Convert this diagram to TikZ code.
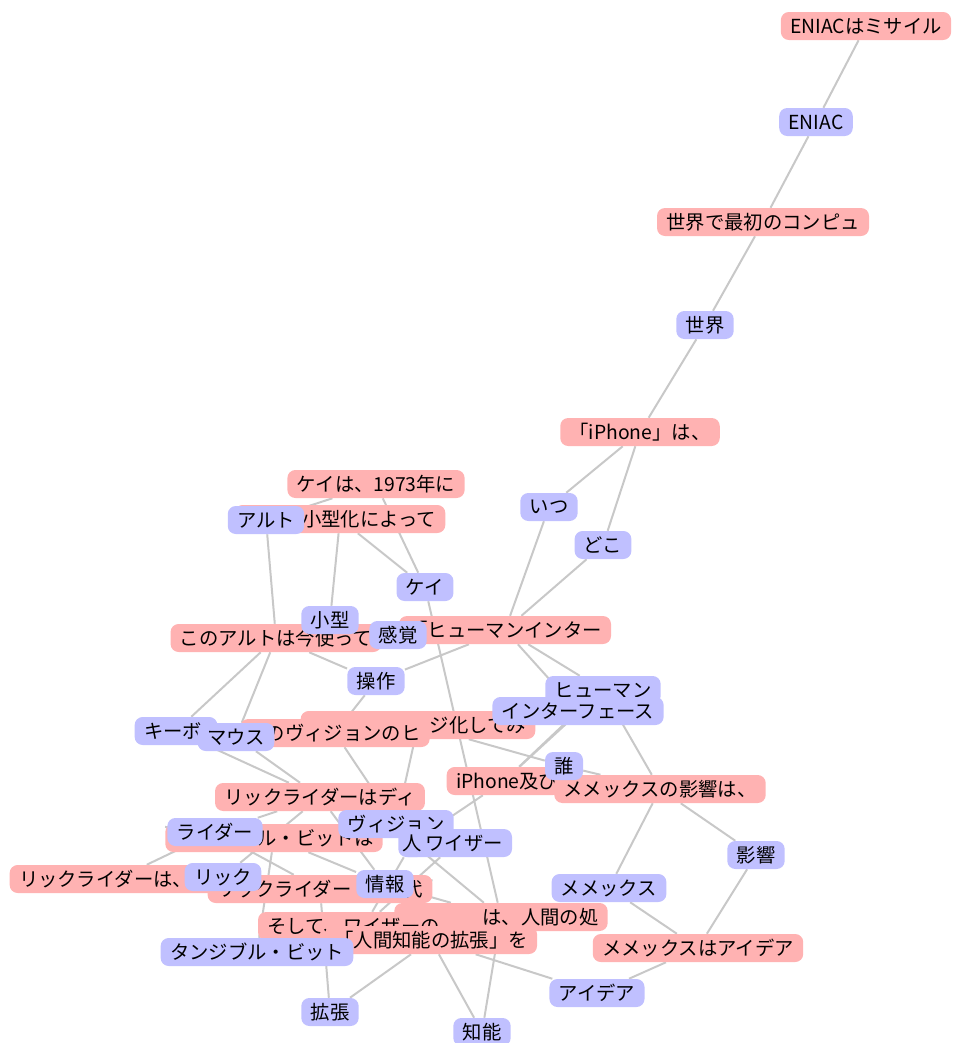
\documentclass[tikz,border=0pt]{standalone}
\usepackage{fontspec}
\newfontfamily\jp{Noto Sans CJK JP}
\usetikzlibrary{backgrounds}
\definecolor{sentfill}{RGB}{255,178,178}
\definecolor{wordfill}{RGB}{192,192,255}
\definecolor{linkgray}{RGB}{200,200,200}
\tikzset{
  sent/.style={fill=sentfill, rounded corners=6pt, inner xsep=7pt, inner ysep=0pt,
    minimum height=21pt, font=\jp\fontsize{14.5}{17}\selectfont},
  kw/.style={sent, fill=wordfill},
  cutl/.style={text width=#1, align=right},
  cutr/.style={text width=#1, align=left},
  link/.style={draw=linkgray, line width=1.5pt}
}

\begin{document}
\begin{tikzpicture}[x=0.75pt,y=-0.75pt]
\useasboundingbox (0,0) rectangle (956,1043);

% sentences
\node[sent] (r1) at (866,26) {ENIACはミサイル};
\node[sent] (r2) at (763,222) {世界で最初のコンピュ};
\node[sent] (r3) at (640,432) {「iPhone」は、};
\node[sent] (r4) at (376,484) {ケイは、1973年に};
\node[sent, cutl=144pt] (r5) at (340,519) {小型化によって};
\node[sent] (r6) at (276,638) {このアルトは今使って};
\node[sent] (r7) at (505,630) {「ヒューマンインター};
\node[sent, cutl=162pt] (r8a) at (418,725) {ジ化してみ};
\node[sent, cutl=128pt] (r8b) at (335,733) {のヴィジョンのヒ};
\node[sent] (r9) at (320,797) {リックライダーはディ};
\node[sent, cutr=72pt] (r10) at (504,781) {iPhone及びiP};
\node[sent] (r11) at (660,789) {メメックスの影響は、};
\node[sent, cutl=149pt] (r12) at (274,838) {ル・ビットは};
\node[sent, cutr=147pt] (r13) at (117,879) {リックライダーは、};
\node[sent] (r14) at (320,889) {リックライダー\hspace{1.7em}」代};
\node[sent, cutl=146pt] (r16) at (501,917) {は、人間の処};
\node[sent, cutr=145pt] (r15) at (364,926) {そして、ワイザーの};
\node[sent] (r17) at (431,940) {「人間知能の拡張」を};
\node[sent] (r18) at (698,948) {メメックスはアイデア};

% keywords
\node[kw] (eniac) at (816,122) {ENIAC};
\node[kw] (sekai) at (705,325) {世界};
\node[kw] (itsu) at (549,507) {いつ};
\node[kw] (doko) at (603,545) {どこ};
\node[kw] (alto) at (266,520) {アルト};
\node[kw] (kei) at (425,587) {ケイ};
\node[kw] (kogata) at (330,620) {小型};
\node[kw] (kankaku) at (398,635) {感覚};
\node[kw] (sousa) at (376,681) {操作};
\node[kw] (human) at (603,690) {ヒューマン};
\node[kw] (iface) at (578,711) {インターフェース};
\node[kw, cutr=48pt] (keybo) at (176,731) {キーボ};
\node[kw] (mouse) at (236,737) {マウス};
\node[kw] (dare) at (564,766) {誰};
\node[kw] (rider) at (215,832) {ライダー};
\node[kw] (vision) at (396,824) {ヴィジョン};
\node[kw, cutl=70pt] (wiser) at (456,843) {ワイザー};
\node[kw, inner xsep=3pt] (hito) at (412,843) {人};
\node[kw] (rick) at (223,877) {リック};
\node[kw] (jouhou) at (385,884) {情報};
\node[kw] (memex) at (609,888) {メメックス};
\node[kw] (eikyou) at (756,855) {影響};
\node[kw] (tangible) at (257,952) {タンジブル・ビット};
\node[kw] (kakuchou) at (330,1012) {拡張};
\node[kw] (chinou) at (482,1032) {知能};
\node[kw] (idea) at (597,993) {アイデア};

% links between sentences and keywords
\begin{scope}[on background layer, every edge/.style=link]
\path
  (r1) edge (eniac)
  (r2) edge (eniac)
  (r2) edge (sekai)
  (r3) edge (sekai)
  (r3) edge (itsu)
  (r3) edge (doko)
  (r7) edge (itsu)
  (r7) edge (doko)
  (r7) edge (kankaku)
  (r7) edge (sousa)
  (r7) edge (human)
  (r7) edge (iface)
  (r4) edge (kei)
  (r4) edge (alto)
  (r5) edge (kei)
  (r5) edge (kogata)
  (r6) edge (alto)
  (r6) edge (keybo)
  (r6) edge (mouse)
  (r6) edge (sousa)
  (r16) edge (kei)
  (r8a) edge (vision)
  (r8a) edge (dare)
  (r8b) edge (sousa)
  (r8b) edge (vision)
  (r9) edge (keybo)
  (r9) edge (mouse)
  (r9) edge (rider)
  (r9) edge (rick)
  (r9) edge (jouhou)
  (r10) edge (hito)
  (r10) edge (human)
  (r10) edge (iface)
  (r11) edge (dare)
  (r11) edge (memex)
  (r11) edge (eikyou)
  (r11) edge (human)
  (r12) edge (tangible)
  (r12) edge (jouhou)
  (r12) edge (rider)
  (r13) edge (rick)
  (r13) edge (rider)
  (r14) edge (rick)
  (r14) edge (rider)
  (r14) edge (jouhou)
  (r14) edge (kakuchou)
  (r15) edge (wiser)
  (r15) edge (hito)
  (r16) edge (hito)
  (r16) edge (jouhou)
  (r16) edge (chinou)
  (r17) edge (kakuchou)
  (r17) edge (chinou)
  (r17) edge (idea)
  (r18) edge (memex)
  (r18) edge (idea)
  (r18) edge (eikyou);
\end{scope}
\end{tikzpicture}
\end{document}
